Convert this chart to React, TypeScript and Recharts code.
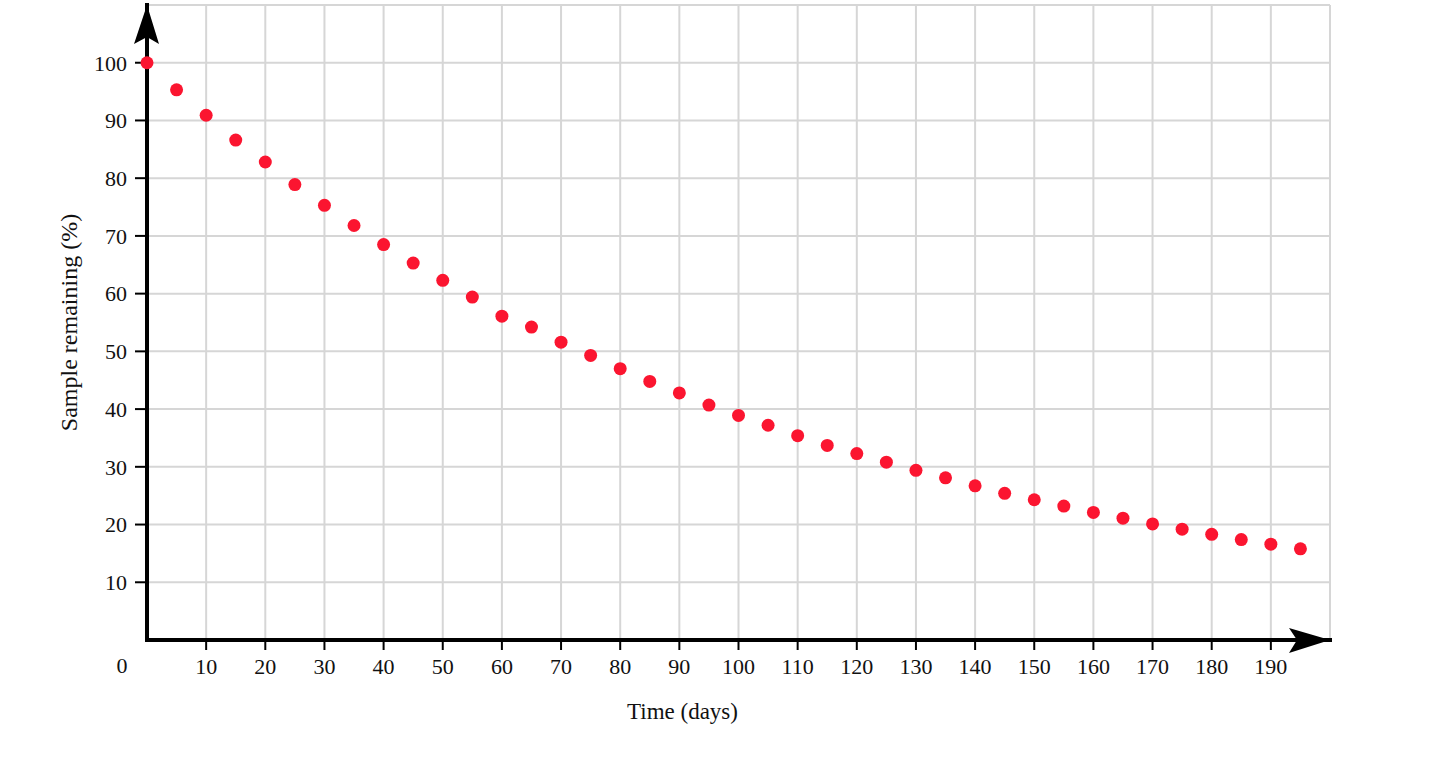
import {
  ScatterChart,
  Scatter,
  XAxis,
  YAxis,
  CartesianGrid,
  ReferenceLine,
  ReferenceDot,
} from 'recharts';

// readings every 5 days
const days = [
  0, 5, 10, 15, 20, 25, 30, 35, 40, 45, 50, 55, 60, 65, 70, 75, 80, 85, 90, 95,
  100, 105, 110, 115, 120, 125, 130, 135, 140, 145, 150, 155, 160, 165, 170, 175,
  180, 185, 190, 195,
];
const remaining = [
  100, 95.3, 90.9, 86.6, 82.8, 78.9, 75.3, 71.8, 68.5, 65.3, 62.3, 59.4, 56.1,
  54.2, 51.6, 49.3, 47.0, 44.8, 42.8, 40.7, 38.9, 37.2, 35.4, 33.7, 32.3, 30.8,
  29.4, 28.1, 26.7, 25.4, 24.3, 23.2, 22.1, 21.1, 20.1, 19.2, 18.3, 17.4, 16.6,
  15.8,
];
const xTicks = [10, 20, 30, 40, 50, 60, 70, 80, 90, 100, 110, 120, 130, 140, 150, 160, 170, 180, 190];
const yTicks = [10, 20, 30, 40, 50, 60, 70, 80, 90, 100];

const data = days.map((d, i) => ({ day: d, pct: remaining[i] }));

const FONT = '"Liberation Serif", "Times New Roman", serif';
const GRID = '#d6d6d6';
const INK = '#111';

const Dot = (props: any) => (
  <circle cx={props.cx} cy={props.cy} r={6.5} fill="#fb1530" />
);

const RightArrow = ({ cx, cy }: any) => (
  <polygon
    points={`${cx},${cy} ${cx - 41},${cy - 12} ${cx - 33},${cy} ${cx - 41},${cy + 13}`}
    fill="#000"
  />
);

const UpArrow = ({ cx, cy }: any) => (
  <polygon
    points={`${cx},${cy} ${cx + 12},${cy + 39} ${cx},${cy + 32} ${cx - 13},${cy + 39}`}
    fill="#000"
  />
);

const OriginLabel = ({ cx, cy }: any) => (
  <text x={cx - 25} y={cy + 33} fontSize={22} fontFamily={FONT} textAnchor="middle" fill={INK}>
    0
  </text>
);

export default function App() {
  return (
    <div style={{ position: 'absolute', left: 0, top: 0, background: '#fff' }}>
      <ScatterChart width={1450} height={766} margin={{ top: 5, right: 120, bottom: 0, left: 0 }}>
        <CartesianGrid stroke={GRID} strokeWidth={2} />
        <ReferenceLine x={200} stroke={GRID} strokeWidth={2} />
        <ReferenceLine y={110} stroke={GRID} strokeWidth={2} />
        <XAxis
          type="number"
          dataKey="day"
          domain={[0, 200]}
          ticks={xTicks}
          height={126}
          tickSize={10}
          tickMargin={8}
          axisLine={{ stroke: '#000', strokeWidth: 4, strokeLinecap: 'square' }}
          tickLine={{ stroke: '#000', strokeWidth: 2 }}
          tick={{ fill: INK, fontSize: 22, fontFamily: FONT }}
          label={{
            value: 'Time (days)',
            position: 'insideBottom',
            offset: 47,
            dx: -56,
            fill: INK,
            fontSize: 23,
            fontFamily: FONT,
          }}
        />
        <YAxis
          type="number"
          dataKey="pct"
          domain={[0, 110]}
          ticks={yTicks}
          width={147}
          tickSize={12}
          tickMargin={8}
          axisLine={{ stroke: '#000', strokeWidth: 4, strokeLinecap: 'square' }}
          tickLine={{ stroke: '#000', strokeWidth: 2 }}
          tick={{ fill: INK, fontSize: 22, fontFamily: FONT }}
          label={{
            value: 'Sample remaining (%)',
            position: 'center',
            angle: -90,
            dx: -5,
            fill: INK,
            fontSize: 24,
            fontFamily: FONT,
          }}
        />
        <ReferenceDot x={200} y={0} r={0} ifOverflow="visible" shape={RightArrow} />
        <ReferenceDot x={0} y={110} r={0} ifOverflow="visible" shape={UpArrow} />
        <ReferenceDot x={0} y={0} r={0} ifOverflow="visible" shape={OriginLabel} />
        <Scatter data={data} shape={Dot} isAnimationActive={false} />
      </ScatterChart>
    </div>
  );
}
